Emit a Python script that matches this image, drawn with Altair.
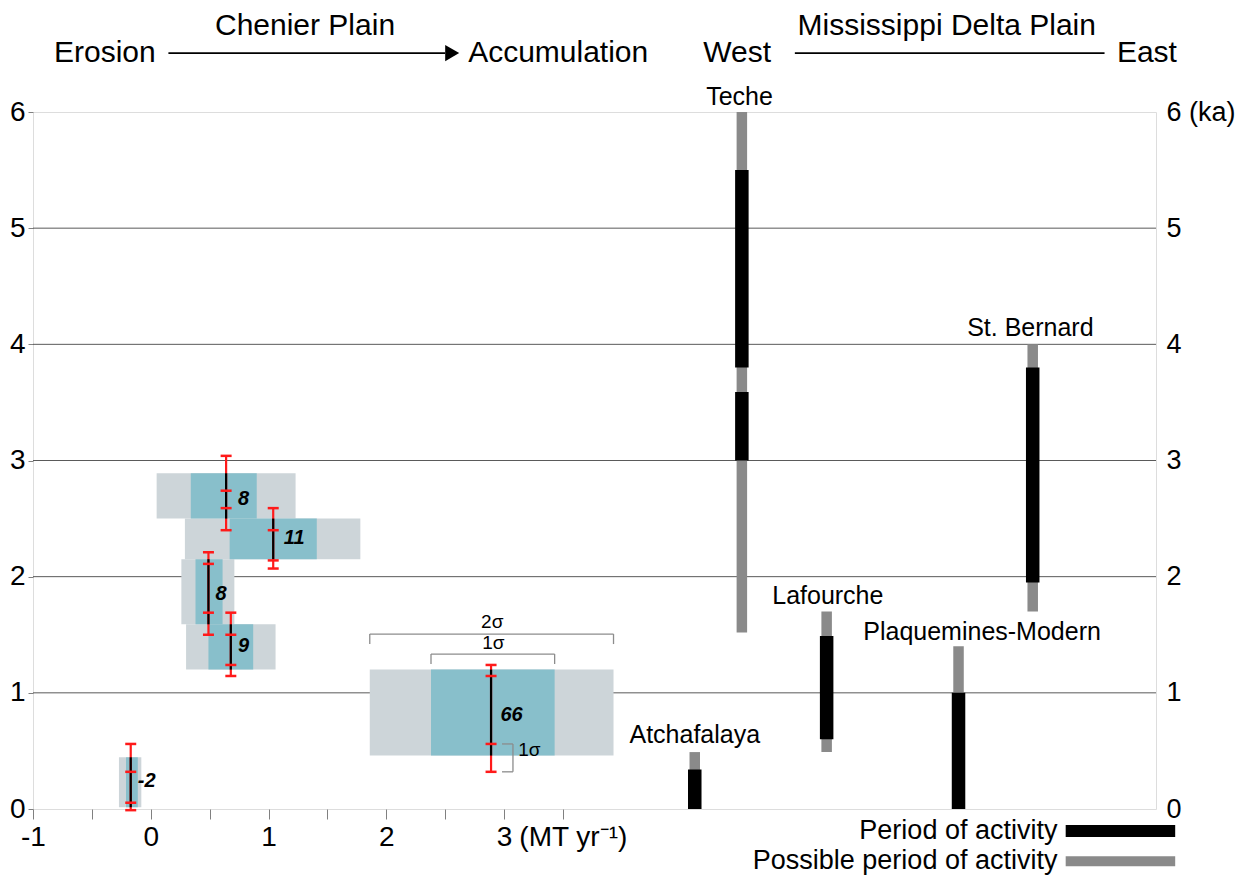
import altair as alt
import pandas as pd

FONT = "Liberation Sans"

# ---------------- Chenier Plain sediment-flux boxes ----------------
box_label  = ["8", "11", "8", "9", "66", "-2"]
grey_lo    = [0.05, 0.29, 0.26, 0.30, 1.86, -0.27]   # 2 sigma flux range (MT/yr)
grey_hi    = [1.23, 1.78, 0.71, 1.06, 3.93, -0.08]
teal_lo    = [0.34, 0.67, 0.38, 0.49, 2.38, -0.21]   # 1 sigma flux range
teal_hi    = [0.90, 1.41, 0.61, 0.87, 3.43, -0.11]
age_bottom = [2.50, 2.15, 1.59, 1.20, 0.46, 0.015]   # ka
age_top    = [2.89, 2.50, 2.15, 1.59, 1.20, 0.445]
flux_mid   = [0.64, 1.04, 0.49, 0.68, 2.89, -0.17]
age_2s_hi  = [3.04, 2.59, 2.21, 1.69, 1.24, 0.56]
age_1s_hi  = [2.74, 2.40, 2.11, 1.50, 1.145, 0.32]
age_1s_lo  = [2.59, 2.14, 1.69, 1.24, 0.56, 0.054]
age_2s_lo  = [2.40, 2.07, 1.50, 1.145, 0.32, -0.01]
label_x    = [0.74, 1.13, 0.55, 0.74, 2.97, -0.11]
label_y    = [2.67, 2.335, 1.85, 1.40, 0.81, 0.245]

# ---------------- Mississippi delta lobes ----------------
delta_names    = ["Atchafalaya", "Teche", "Lafourche", "Plaquemines-Modern", "St. Bernard"]
delta_x        = [4.62, 5.02, 5.74, 6.86, 7.49]
possible_old   = [0.49, 6.00, 1.70, 1.40, 4.00]
possible_young = [0.00, 1.52, 0.49, 0.00, 1.70]
delta_label_x  = [4.62, 5.00, 5.75, 7.06, 7.47]
delta_label_y  = [0.64, 6.13, 1.83, 1.52, 4.14]

active_lobe  = ["Atchafalaya", "Teche", "Teche", "Lafourche", "Plaquemines-Modern", "St. Bernard"]
active_old   = [0.34, 5.50, 3.59, 1.49, 1.00, 3.80]
active_young = [0.00, 3.80, 3.00, 0.60, 0.00, 1.95]

# ---------------- header / legend texts ----------------
header_text = ["Chenier Plain", "Erosion", "Accumulation", "Mississippi Delta Plain", "West", "East"]
header_x    = [1.31, -0.39, 3.46, 6.76, 4.98, 8.46]
header_y    = [6.740, 6.507, 6.507, 6.740, 6.507, 6.507]
arrow_x     = [0.15, 2.50]
arrow_head  = 2.56
west_east_x = [5.47, 8.10]
header_line_y = 6.507

legend_text = ["Period of activity", "Possible period of activity"]
legend_y    = [-0.19, -0.45]
legend_text_x = 7.70
legend_bar_x  = [7.77, 8.70]

grid_values = [1, 2, 3, 4, 5]
unit_x, unit_y = 3.13, -0.25

# ---------------- data frames ----------------
boxes = pd.DataFrame(dict(label=box_label, glo=grey_lo, ghi=grey_hi, tlo=teal_lo, thi=teal_hi,
                          ybot=age_bottom, ytop=age_top, x=flux_mid,
                          a2h=age_2s_hi, a1h=age_1s_hi, a1l=age_1s_lo, a2l=age_2s_lo,
                          lx=label_x, ly=label_y))
caps = pd.DataFrame(dict(x=flux_mid * 4,
                         y=age_2s_hi + age_1s_hi + age_1s_lo + age_2s_lo))

i = 4  # the "66" box carries the sigma annotation
b2_y, b2_leg = 1.506, 1.42
b1_y, b1_leg = 1.334, 1.248
side_x, side_tick = 3.076, 2.983
brackets = pd.DataFrame(dict(
    x=[grey_lo[i], grey_lo[i], grey_hi[i], teal_lo[i], teal_lo[i], teal_hi[i], side_x, side_tick, side_tick],
    x2=[grey_hi[i], grey_lo[i], grey_hi[i], teal_hi[i], teal_lo[i], teal_hi[i], side_x, side_x, side_x],
    y=[b2_y, b2_y, b2_y, b1_y, b1_y, b1_y, age_1s_lo[i], age_1s_lo[i], age_2s_lo[i]],
    y2=[b2_y, b2_leg, b2_leg, b1_y, b1_leg, b1_leg, age_2s_lo[i], age_1s_lo[i], age_2s_lo[i]],
))
sigma_txt = pd.DataFrame(dict(t=["2σ", "1σ"], x=[2.90, 2.91], y=[1.61, 1.43]))
sigma_side = pd.DataFrame(dict(t=["1σ"], x=[3.12], y=[0.51]))

possible = pd.DataFrame(dict(name=delta_names, x=delta_x, y=possible_old, y2=possible_young))
active = pd.DataFrame(dict(name=active_lobe, x=[delta_x[delta_names.index(n)] for n in active_lobe],
                           y=active_old, y2=active_young))
dlabels = pd.DataFrame(dict(t=delta_names, x=delta_label_x, y=delta_label_y))

header = pd.DataFrame(dict(t=header_text, x=header_x, y=header_y))
hlines = pd.DataFrame(dict(x=[arrow_x[0], west_east_x[0]], x2=[arrow_x[1], west_east_x[1]],
                           y=[header_line_y, header_line_y]))
head = pd.DataFrame(dict(x=[arrow_head], y=[header_line_y]))
legend_t = pd.DataFrame(dict(t=legend_text, x=[legend_text_x] * 2, y=legend_y))
legend_bars = pd.DataFrame(dict(x=[legend_bar_x[0]] * 2, x2=[legend_bar_x[1]] * 2, y=legend_y,
                                kind=["active", "possible"]))
grid = pd.DataFrame(dict(y=grid_values))
unit = pd.DataFrame(dict(t=["(MT yr⁻¹)"], x=[unit_x], y=[unit_y]))

# ---------------- scales / axes ----------------
xs = alt.Scale(domain=[-1, 8.537], nice=False, zero=False)
ys = alt.Scale(domain=[0, 6], nice=False, zero=False)

x_axis = alt.Axis(values=[-1, -0.5, 0, 0.5, 1, 1.5, 2, 2.5, 3, 3.5],
                  labelExpr="datum.value % 1 == 0 ? '' + datum.value : ''",
                  tickSize=10, tickColor="#808080", tickWidth=1, domain=False, grid=False,
                  labelFont=FONT, labelFontSize=28, labelColor="black", labelPadding=4,
                  labelOverlap=False, labelFlush=False, labelBound=False, title=None)
yl_axis = alt.Axis(orient="left", values=[0, 1, 2, 3, 4, 5, 6], labelExpr="'' + datum.value",
                   tickSize=5, tickColor="#808080", domain=False, grid=False,
                   labelFont=FONT, labelFontSize=28, labelColor="black", labelPadding=3,
                   labelFlush=False, labelOverlap=False, title=None)
yr_axis = alt.Axis(orient="right", values=[0, 1, 2, 3, 4, 5, 6],
                   labelExpr="datum.value == 6 ? '6 (ka)' : '' + datum.value",
                   ticks=False, domain=False, grid=False,
                   labelFont=FONT, labelFontSize=27, labelColor="black", labelPadding=10,
                   labelFlush=False, labelOverlap=False, title=None)


def X(f):
    return alt.X(f, type="quantitative", scale=xs, axis=x_axis)


def Y(f, axis=None):
    return alt.Y(f, type="quantitative", scale=ys, axis=axis)


grid_layer = alt.Chart(grid).mark_rule(color="#5a5a5a", strokeWidth=1).encode(
    y=Y("y:Q", yl_axis))

grey_rect = alt.Chart(boxes).mark_rect(color="#cdd5d9").encode(
    x=X("glo:Q"), x2="ghi:Q", y=Y("ybot:Q", yr_axis), y2="ytop:Q")
teal_rect = alt.Chart(boxes).mark_rect(color="#88bfcb").encode(
    x=X("tlo:Q"), x2="thi:Q", y=Y("ybot:Q"), y2="ytop:Q")
red_line = alt.Chart(boxes).mark_rule(color="#ff1a1a", strokeWidth=2.2).encode(
    x=X("x:Q"), y=Y("a2h:Q"), y2="a2l:Q")
black_line = alt.Chart(boxes).mark_rule(color="black", strokeWidth=2.2).encode(
    x=X("x:Q"), y=Y("ybot:Q"), y2="ytop:Q")
cap_marks = alt.Chart(caps).mark_tick(color="#ff1a1a", orient="horizontal", size=11,
                                      thickness=2.5, opacity=1).encode(
    x=X("x:Q"), y=Y("y:Q"))
box_text = alt.Chart(boxes).mark_text(font=FONT, fontSize=20, fontWeight="bold",
                                      fontStyle="italic", align="left", baseline="middle",
                                      color="black").encode(
    x=X("lx:Q"), y=Y("ly:Q"), text="label:N")

bracket_layer = alt.Chart(brackets).mark_rule(color="#8c8c8c", strokeWidth=1.3).encode(
    x=X("x:Q"), x2="x2:Q", y=Y("y:Q"), y2="y2:Q")
sigma_layer = alt.Chart(sigma_txt).mark_text(font=FONT, fontSize=19, align="center",
                                             baseline="middle", color="black").encode(
    x=X("x:Q"), y=Y("y:Q"), text="t:N")
sigma_side_layer = alt.Chart(sigma_side).mark_text(font=FONT, fontSize=19, align="left",
                                                   baseline="middle", color="black").encode(
    x=X("x:Q"), y=Y("y:Q"), text="t:N")

possible_layer = alt.Chart(possible).mark_rule(color="#8a8a8a", strokeWidth=10.5).encode(
    x=X("x:Q"), y=Y("y:Q"), y2="y2:Q")
active_layer = alt.Chart(active).mark_rule(color="black", strokeWidth=13.5).encode(
    x=X("x:Q"), y=Y("y:Q"), y2="y2:Q")
dlabel_layer = alt.Chart(dlabels).mark_text(font=FONT, fontSize=25, align="center",
                                            baseline="middle", color="black").encode(
    x=X("x:Q"), y=Y("y:Q"), text="t:N")

header_layer = alt.Chart(header).mark_text(font=FONT, fontSize=30, align="center",
                                           baseline="middle", color="black").encode(
    x=X("x:Q"), y=Y("y:Q"), text="t:N")
hline_layer = alt.Chart(hlines).mark_rule(color="black", strokeWidth=1.6).encode(
    x=X("x:Q"), x2="x2:Q", y=Y("y:Q"))
head_layer = alt.Chart(head).mark_point(shape="triangle-right", size=260, filled=True,
                                        color="black", opacity=1).encode(
    x=X("x:Q"), y=Y("y:Q"))

legend_text_layer = alt.Chart(legend_t).mark_text(font=FONT, fontSize=27, align="right",
                                                  baseline="middle", color="black").encode(
    x=X("x:Q"), y=Y("y:Q"), text="t:N")
legend_bar_layer = alt.Chart(legend_bars).mark_rule().encode(
    x=X("x:Q"), x2="x2:Q", y=Y("y:Q"),
    color=alt.Color("kind:N", scale=alt.Scale(domain=["active", "possible"],
                                              range=["black", "#8a8a8a"]), legend=None),
    strokeWidth=alt.StrokeWidth("kind:N", scale=alt.Scale(domain=["active", "possible"],
                                                          range=[12, 10]), legend=None))
unit_layer = alt.Chart(unit).mark_text(font=FONT, fontSize=28, align="left",
                                       baseline="middle", color="black").encode(
    x=X("x:Q"), y=Y("y:Q"), text="t:N")

chart = alt.layer(
    grid_layer, grey_rect, teal_rect, red_line, black_line, cap_marks, box_text,
    bracket_layer, sigma_layer, sigma_side_layer,
    possible_layer, active_layer, dlabel_layer,
    header_layer, hline_layer, head_layer,
    legend_text_layer, legend_bar_layer, unit_layer,
).resolve_axis(y="independent").properties(
    width=1123, height=697,
    autosize=alt.AutoSizeParams(type="none"),
    padding={"left": 25, "top": 104, "right": 81, "bottom": 66},
).configure_view(stroke="#808080", strokeWidth=1).configure(background="white")

chart.save("out.html", embed_options={"renderer": "svg", "actions": False})
